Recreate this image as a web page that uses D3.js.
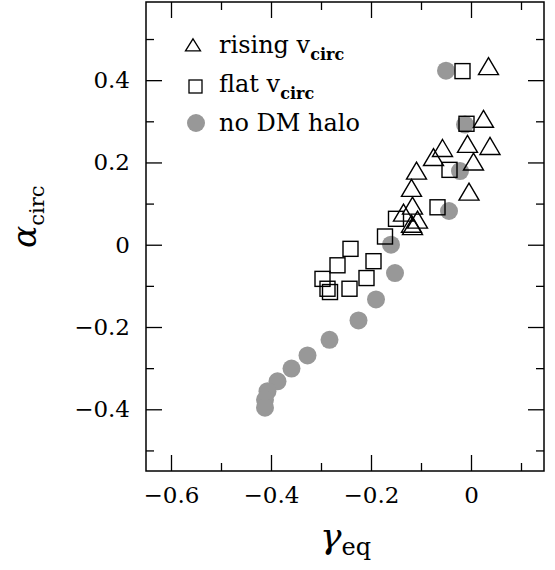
<!DOCTYPE html>
<html>
<head>
<meta charset="utf-8">
<script src="https://cdn.jsdelivr.net/npm/d3@7"></script>
<style>
  body { margin: 0; background: #fff; }
  svg text { font-family: "DejaVu Serif", serif; fill: #000; }
</style>
</head>
<body>
<svg id="chart" width="555" height="570"></svg>
<script>
// gamma_eq, alpha_circ pairs
const risingX = [0.035, 0.025, -0.057, -0.007, 0.038, -0.075, 0.005, -0.109, -0.119, -0.004, -0.117, -0.135, -0.107, -0.119, -0.117]
const risingY = [0.43, 0.302, 0.231, 0.241, 0.236, 0.209, 0.198, 0.176, 0.134, 0.125, 0.091, 0.074, 0.057, 0.047, 0.041]
const flatX = [-0.017, -0.009, -0.043, -0.067, -0.15, -0.172, -0.241, -0.267, -0.195, -0.297, -0.209, -0.287, -0.282, -0.243]
const flatY = [0.422, 0.294, 0.182, 0.091, 0.063, 0.02, -0.01, -0.05, -0.04, -0.083, -0.081, -0.107, -0.115, -0.107]
const noDmX = [-0.05, -0.012, -0.022, -0.044, -0.16, -0.152, -0.19, -0.225, -0.283, -0.327, -0.359, -0.387, -0.407, -0.412, -0.412]
const noDmY = [0.423, 0.292, 0.179, 0.082, 0.0, -0.069, -0.133, -0.184, -0.231, -0.269, -0.301, -0.332, -0.356, -0.377, -0.396]

const xMajor = [-0.6, -0.4, -0.2, 0]
const xMinor = [-0.5, -0.3, -0.1, 0.1]
const yMajor = [-0.4, -0.2, 0, 0.2, 0.4]
const yMinor = [-0.5, -0.3, -0.1, 0.1, 0.3, 0.5]
const legendLabels = ['rising', 'flat', 'no DM halo']

const padL = 146
const padR = 544
const padT = 2
const padB = 471
const grey = '#989898'

const svg = d3.select('#chart')
const x = d3.scaleLinear().domain([-0.65, 0.146]).range([padL, padR])
const y = d3.scaleLinear().domain([-0.55, 0.59]).range([padB, padT])

const fmt = d => d === 0 ? '0' : d3.format('.1f')(d).replace('-', '\u2212')

function styleAxis (g) {
  g.select('.domain').remove()
  g.selectAll('line').attr('stroke', '#000').attr('stroke-width', 1.3)
  g.selectAll('text').style('font-size', '23px').style('font-family', '"DejaVu Serif", serif')
}

// bottom / left with labels, top / right only ticks
svg.append('g').attr('transform', `translate(0,${padB})`)
  .call(d3.axisBottom(x).tickValues(xMajor).tickSize(-16).tickPadding(16).tickFormat(fmt)).call(styleAxis)
svg.append('g').attr('transform', `translate(0,${padB})`)
  .call(d3.axisBottom(x).tickValues(xMinor).tickSize(-8).tickFormat('')).call(styleAxis)
svg.append('g').attr('transform', `translate(0,${padT})`)
  .call(d3.axisTop(x).tickValues(xMajor).tickSize(-16).tickFormat('')).call(styleAxis)
svg.append('g').attr('transform', `translate(0,${padT})`)
  .call(d3.axisTop(x).tickValues(xMinor).tickSize(-8).tickFormat('')).call(styleAxis)

svg.append('g').attr('transform', `translate(${padL},0)`)
  .call(d3.axisLeft(y).tickValues(yMajor).tickSize(-16).tickPadding(16).tickFormat(fmt)).call(styleAxis)
svg.append('g').attr('transform', `translate(${padL},0)`)
  .call(d3.axisLeft(y).tickValues(yMinor).tickSize(-8).tickFormat('')).call(styleAxis)
svg.append('g').attr('transform', `translate(${padR},0)`)
  .call(d3.axisRight(y).tickValues(yMajor).tickSize(-16).tickFormat('')).call(styleAxis)
svg.append('g').attr('transform', `translate(${padR},0)`)
  .call(d3.axisRight(y).tickValues(yMinor).tickSize(-8).tickFormat('')).call(styleAxis)

svg.append('rect')
  .attr('x', padL).attr('y', padT)
  .attr('width', padR - padL).attr('height', padB - padT)
  .attr('fill', 'none').attr('stroke', '#000').attr('stroke-width', 1.5)

function triPath (w, h) {
  return `M0,${-h * 0.6}L${w / 2},${h * 0.4}L${-w / 2},${h * 0.4}Z`
}

const plot = svg.append('g')

plot.selectAll('circle.nodm')
  .data(d3.zip(noDmX, noDmY))
  .join('circle')
  .attr('class', 'nodm')
  .attr('cx', d => x(d[0])).attr('cy', d => y(d[1]))
  .attr('r', 9)
  .attr('fill', grey)

plot.selectAll('rect.flat')
  .data(d3.zip(flatX, flatY))
  .join('rect')
  .attr('class', 'flat')
  .attr('x', d => x(d[0]) - 7.5).attr('y', d => y(d[1]) - 7.5)
  .attr('width', 15).attr('height', 15)
  .attr('fill', 'none').attr('stroke', '#000').attr('stroke-width', 1.4)

plot.selectAll('path.rising')
  .data(d3.zip(risingX, risingY))
  .join('path')
  .attr('class', 'rising')
  .attr('transform', d => `translate(${x(d[0])},${y(d[1])})`)
  .attr('d', triPath(20, 17))
  .attr('fill', 'none').attr('stroke', '#000').attr('stroke-width', 1.4)

// legend
const legend = svg.append('g')
legend.append('path').attr('transform', 'translate(193,46)')
  .attr('d', triPath(15, 12)).attr('fill', 'none').attr('stroke', '#000').attr('stroke-width', 1.3)
legend.append('rect').attr('x', 189).attr('y', 80).attr('width', 13).attr('height', 13)
  .attr('fill', 'none').attr('stroke', '#000').attr('stroke-width', 1.3)
legend.append('circle').attr('cx', 196).attr('cy', 123).attr('r', 9).attr('fill', grey)

const legendY = [53, 92, 131]
legendLabels.forEach((lab, i) => {
  const t = legend.append('text').attr('x', 219).attr('y', legendY[i]).style('font-size', '24px')
  t.append('tspan').text(lab)
  if (i < 2) {
    t.append('tspan').text(' v')
    t.append('tspan').attr('dy', 7).style('font-size', '16px').style('font-weight', 'bold').text('circ')
  }
})

// axis titles
const xt = svg.append('text').attr('x', 320).attr('y', 548).style('font-size', '36px')
xt.append('tspan').style('font-style', 'italic').text('\u03b3')
xt.append('tspan').attr('dy', 7).style('font-size', '24px').text('eq')

const yt = svg.append('text').attr('transform', 'translate(36,248) rotate(-90)').style('font-size', '33px')
yt.append('tspan').style('font-style', 'italic').text('\u03b1')
yt.append('tspan').attr('dy', 8).style('font-size', '21px').text('circ')
</script>
</body>
</html>
